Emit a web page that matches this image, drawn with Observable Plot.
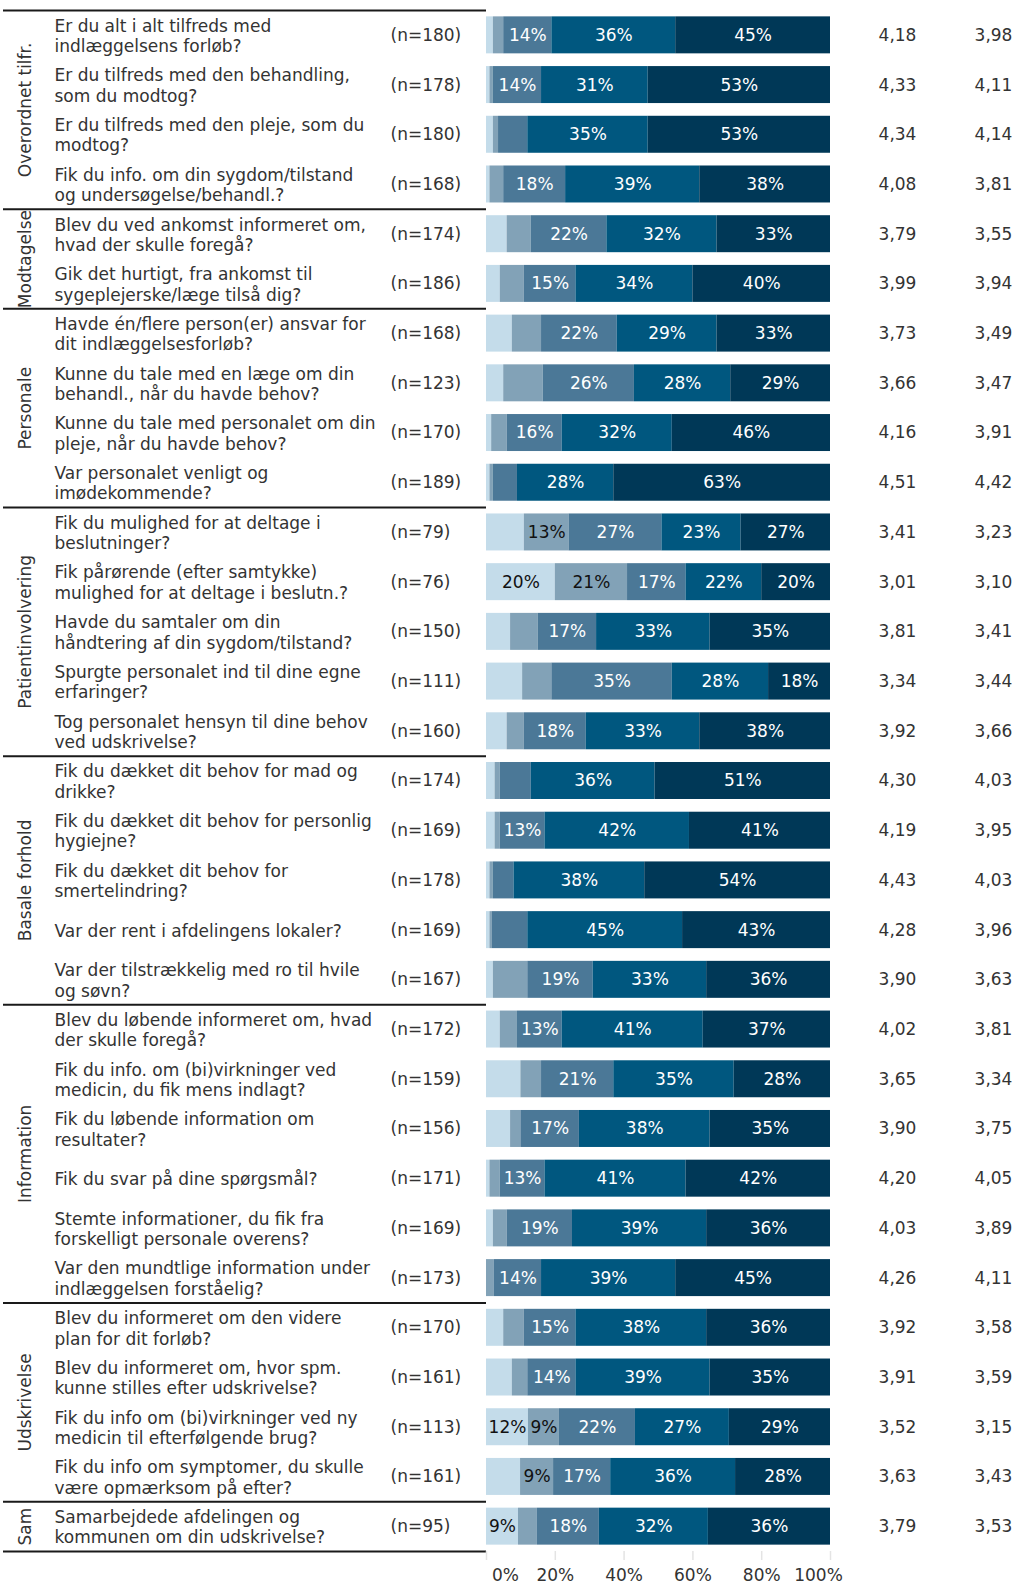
<!DOCTYPE html>
<html><head><meta charset="utf-8">
<script src="https://cdn.jsdelivr.net/npm/d3@7"></script>
<script src="https://cdn.jsdelivr.net/npm/@observablehq/plot@0.6"></script>
<style>body{margin:0;background:#fff}#chart svg{display:block}</style>
</head><body><div id="chart"></div>
<script>
const groups = ["Overordnet tilfr.","Modtagelse","Personale","Patientinvolvering","Basale forhold","Information","Udskrivelse","Sam"];
const groupSizes = [4,2,4,5,5,6,4,1];
const questions = [
"Er du alt i alt tilfreds med\nindlæggelsens forløb?",
"Er du tilfreds med den behandling,\nsom du modtog?",
"Er du tilfreds med den pleje, som du\nmodtog?",
"Fik du info. om din sygdom/tilstand\nog undersøgelse/behandl.?",
"Blev du ved ankomst informeret om,\nhvad der skulle foregå?",
"Gik det hurtigt, fra ankomst til\nsygeplejerske/læge tilså dig?",
"Havde én/flere person(er) ansvar for\ndit indlæggelsesforløb?",
"Kunne du tale med en læge om din\nbehandl., når du havde behov?",
"Kunne du tale med personalet om din\npleje, når du havde behov?",
"Var personalet venligt og\nimødekommende?",
"Fik du mulighed for at deltage i\nbeslutninger?",
"Fik pårørende (efter samtykke)\nmulighed for at deltage i beslutn.?",
"Havde du samtaler om din\nhåndtering af din sygdom/tilstand?",
"Spurgte personalet ind til dine egne\nerfaringer?",
"Tog personalet hensyn til dine behov\nved udskrivelse?",
"Fik du dækket dit behov for mad og\ndrikke?",
"Fik du dækket dit behov for personlig\nhygiejne?",
"Fik du dækket dit behov for\nsmertelindring?",
"Var der rent i afdelingens lokaler?",
"Var der tilstrækkelig med ro til hvile\nog søvn?",
"Blev du løbende informeret om, hvad\nder skulle foregå?",
"Fik du info. om (bi)virkninger ved\nmedicin, du fik mens indlagt?",
"Fik du løbende information om\nresultater?",
"Fik du svar på dine spørgsmål?",
"Stemte informationer, du fik fra\nforskelligt personale overens?",
"Var den mundtlige information under\nindlæggelsen forståelig?",
"Blev du informeret om den videre\nplan for dit forløb?",
"Blev du informeret om, hvor spm.\nkunne stilles efter udskrivelse?",
"Fik du info om (bi)virkninger ved ny\nmedicin til efterfølgende brug?",
"Fik du info om symptomer, du skulle\nvære opmærksom på efter?",
"Samarbejdede afdelingen og\nkommunen om din udskrivelse?"
];
const nValues = [180,178,180,168,174,186,168,123,170,189,79,76,150,111,160,174,169,178,169,167,172,159,156,171,169,173,170,161,113,161,95];
const s1 = [2,1,2,1,6,4,7.5,5,1.5,1,11,20,7,10.5,6,2.5,2.5,1,1,2,4,10,7,1,2,0,5,7.5,12.2,9.9,9.3];
const s2 = [3,1,1.5,4,7,7,8.5,11.5,4.5,1,13,21,8,8.5,5,1.5,1.5,1,0.6,10,5,6,3,3,4,2.3,6,4.5,9,9.6,5.5];
const s3 = [14,14,8.5,18,22,15,22,26.5,16,7,27,17,17,35,18,9,13,6,10.4,19,13,21,17,13,19,13.7,15,14,22.1,16.6,18];
const s4 = [36,31,35,39,32,34,29,28,32,28,23,22,33,28,33,36,42,38,45,33,41,35,38,41,39,39,38,39,27.3,36.3,31.7];
const s5 = [45,53,53,38,33,40,33,29,46,63,26,20,35,18,38,51,41,54,43,36,37,28,35,42,36,45,36,35,29.4,27.6,35.5];
const lbl1 = [null,null,null,null,null,null,null,null,null,null,null,20,null,null,null,null,null,null,null,null,null,null,null,null,null,null,null,null,12,null,9];
const lbl2 = [null,null,null,null,null,null,null,null,null,null,13,21,null,null,null,null,null,null,null,null,null,null,null,null,null,null,null,null,9,9,null];
const lbl3 = [14,14,null,18,22,15,22,26,16,null,27,17,17,35,18,null,13,null,null,19,13,21,17,13,19,14,15,14,22,17,18];
const lbl4 = [36,31,35,39,32,34,29,28,32,28,23,22,33,28,33,36,42,38,45,33,41,35,38,41,39,39,38,39,27,36,32];
const lbl5 = [45,53,53,38,33,40,33,29,46,63,27,20,35,18,38,51,41,54,43,36,37,28,35,42,36,45,36,35,29,28,36];
const mean1 = ["4,18","4,33","4,34","4,08","3,79","3,99","3,73","3,66","4,16","4,51","3,41","3,01","3,81","3,34","3,92","4,30","4,19","4,43","4,28","3,90","4,02","3,65","3,90","4,20","4,03","4,26","3,92","3,91","3,52","3,63","3,79"];
const mean2 = ["3,98","4,11","4,14","3,81","3,55","3,94","3,49","3,47","3,91","4,42","3,23","3,10","3,41","3,44","3,66","4,03","3,95","4,03","3,96","3,63","3,81","3,34","3,75","4,05","3,89","4,11","3,58","3,59","3,15","3,43","3,53"];
const segments = ["1","2","3","4","5"];
const segColors = ["#c4dcea","#82a2b7","#4b7897","#00577f","#003857"];
const xTicks = [0,20,40,60,80,100];

// ---- build tables ----
const segVals = [s1,s2,s3,s4,s5];
const segLbls = [lbl1,lbl2,lbl3,lbl4,lbl5];
const rows = questions.map((q,i)=>({q, n:`(n=${nValues[i]})`, m1:mean1[i], m2:mean2[i]}));
const long = [];
questions.forEach((q,i)=>segments.forEach((s,j)=>long.push({q, seg:s, j, value:segVals[j][i], label:segLbls[j][i]})));

const W=1033, H=1596, mL=486, mR=203, mT=10, mB=45, padIn=0.256, padOut=0.128;
const step = (H-mT-mB)/(questions.length - padIn + 2*padOut);
const font = "DejaVu Sans";
const textCol = "#333";

// group boundaries & labels
const groupInfo = [];
let start = 0;
groups.forEach((g,k)=>{const size=groupSizes[k]; groupInfo.push({g,start,size}); start+=size;});
const boundaries = groupInfo.map(d=>({q:questions[d.start], dy:-step/2}));
boundaries.push({q:questions[questions.length-1], dy:step/2});

const groupMarks = groupInfo.map(d=>{
  const even = d.size%2===0;
  const idx = d.start + (even ? d.size/2-1 : (d.size-1)/2);
  return Plot.text([d], {y:()=>questions[idx], text:"g", frameAnchor:"left", dx:25-mL, dy: even?step/2:0, rotate:-90, textAnchor:"middle", fontSize:17, fill:textCol});
});
const ruleMarks = [-1,1].map(sgn=>Plot.ruleY(boundaries.filter(b=>Math.sign(b.dy)===sgn), {y:"q", dy:sgn*step/2, insetLeft:-(mL-3), insetRight:(W-mR-mL), stroke:"#1a1a1a", strokeWidth:2}));

const pct = d=>d+"%";
const chart = Plot.plot({
  width:W, height:H, marginLeft:mL, marginRight:mR, marginTop:mT, marginBottom:mB,
  style:{fontFamily:font, fontSize:"17px", color:textCol, background:"#fff"},
  x:{domain:[0,100], axis:null, label:null},
  y:{domain:questions, paddingInner:padIn, paddingOuter:padOut, round:false, axis:null, label:null},
  color:{domain:segments, range:segColors},
  marks:[
    Plot.barX(long, {x:"value", y:"q", fill:"seg", order:segments}),
    Plot.text(long, Plot.stackX({x:"value", y:"q", z:"seg", order:segments, text:d=>(d.j<2 && d.label!=null)?d.label+"%":"", fill:"#111", fontSize:17})),
    Plot.text(long, Plot.stackX({x:"value", y:"q", z:"seg", order:segments, text:d=>(d.j>=2 && d.label!=null)?d.label+"%":"", fill:"white", fontSize:17})),
    Plot.text(rows, {y:"q", text:"q", frameAnchor:"left", dx:54-mL, textAnchor:"start", lineHeight:1.2, fontSize:17, fill:textCol}),
    Plot.text(rows, {y:"q", text:"n", frameAnchor:"left", dx:390-mL, textAnchor:"start", fontSize:17, fill:textCol}),
    Plot.text(rows, {y:"q", text:"m1", frameAnchor:"right", dx:897-(W-mR), textAnchor:"middle", fontSize:17, fill:textCol}),
    Plot.text(rows, {y:"q", text:"m2", frameAnchor:"right", dx:993-(W-mR), textAnchor:"middle", fontSize:17, fill:textCol}),
    ...ruleMarks,
    ...groupMarks,
    Plot.axisX(xTicks, {tickSize:9, tickFormat:()=>"", label:null, stroke:"#e4e4e4", strokeWidth:1.5}),
    Plot.axisX([xTicks[0]], {tickSize:0, tickPadding:17, tickFormat:pct, label:null, dx:19, fontSize:17, fill:textCol}),
    Plot.axisX(xTicks.slice(1,-1), {tickSize:0, tickPadding:17, tickFormat:pct, label:null, fontSize:17, fill:textCol}),
    Plot.axisX([xTicks[xTicks.length-1]], {tickSize:0, tickPadding:17, tickFormat:pct, label:null, dx:-12, fontSize:17, fill:textCol})
  ]
});
document.getElementById("chart").appendChild(chart);
</script></body></html>
